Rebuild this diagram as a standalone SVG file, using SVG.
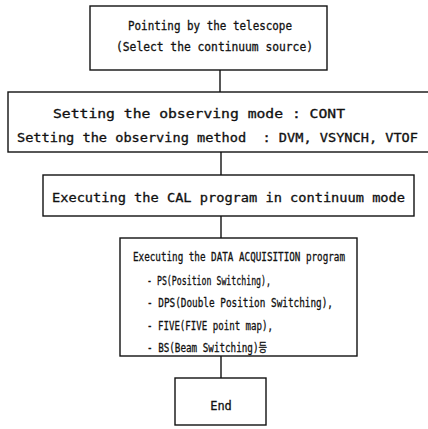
<svg xmlns="http://www.w3.org/2000/svg" width="428" height="429" viewBox="0 0 428 429">
<style>
.box{fill:#fff;stroke:#111;stroke-width:1.4}
.t{font-family:"DejaVu Sans Mono","Liberation Mono",monospace;font-size:12px;fill:#111;stroke:#111;stroke-width:0.3;white-space:pre}
.ko{font-family:"DejaVu Sans Mono","Noto Sans CJK KR",monospace}
.c{stroke:#111;stroke-width:1.4;fill:none}
</style>
<rect width="428" height="429" fill="#fff"/>
<g id="connectors">
<line class="c" x1="220" y1="70" x2="220" y2="92"/>
<line class="c" x1="221" y1="152" x2="221" y2="175"/>
<line class="c" x1="221" y1="216" x2="221" y2="238"/>
<line class="c" x1="221" y1="356" x2="221" y2="378"/>
</g>
<g id="n1">
<rect class="box" x="90" y="6" width="237" height="64"/>
<text class="t" x="128" y="30" textLength="164" lengthAdjust="spacingAndGlyphs">Pointing by the telescope</text>
<text class="t" x="116" y="51" textLength="197" lengthAdjust="spacingAndGlyphs">(Select the continuum source)</text>
</g>
<g id="n2">
<rect class="box" x="8" y="92" width="425" height="60"/>
<text class="t" x="53" y="118" textLength="292" lengthAdjust="spacingAndGlyphs">Setting the observing mode : CONT</text>
<text class="t" x="17" y="142" textLength="401" lengthAdjust="spacingAndGlyphs" xml:space="preserve">Setting the observing method  : DVM, VSYNCH, VTOF</text>
</g>
<g id="n3">
<rect class="box" x="43" y="175" width="371" height="41"/>
<text class="t" x="52" y="202" textLength="353" lengthAdjust="spacingAndGlyphs">Executing the CAL program in continuum mode</text>
</g>
<g id="n4">
<rect class="box" x="120" y="238" width="237" height="118"/>
<text class="t" x="133" y="261" textLength="212" lengthAdjust="spacingAndGlyphs">Executing the DATA ACQUISITION program</text>
<text class="t" x="147" y="285" textLength="124" lengthAdjust="spacingAndGlyphs">- PS(Position Switching),</text>
<text class="t" x="147" y="307" textLength="186" lengthAdjust="spacingAndGlyphs">- DPS(Double Position Switching),</text>
<text class="t" x="147" y="330" textLength="126" lengthAdjust="spacingAndGlyphs">- FIVE(FIVE point map),</text>
<text class="t ko" x="147" y="352" textLength="120" lengthAdjust="spacingAndGlyphs">- BS(Beam Switching)등</text>
</g>
<g id="n5">
<rect class="box" x="175" y="378" width="91" height="47"/>
<text class="t" x="221" y="410" text-anchor="middle">End</text>
</g>
</svg>
